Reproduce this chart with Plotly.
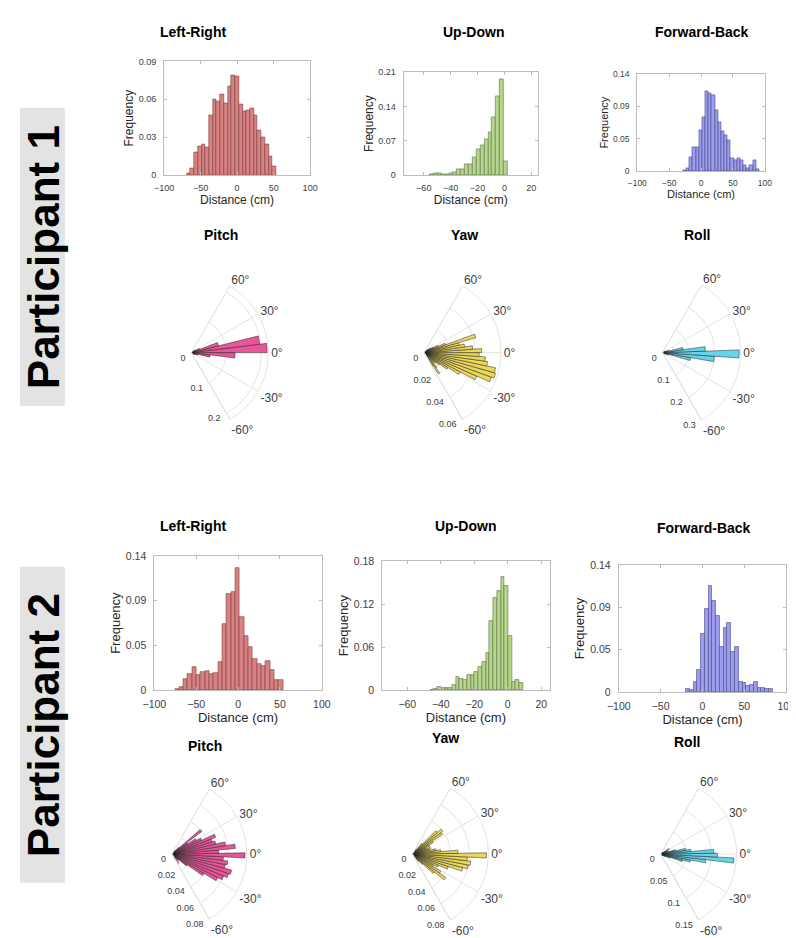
import plotly.graph_objects as go

W, H = 796, 938
FONT = "Liberation Sans, Arial, sans-serif"

# ---------------- Histogram data ----------------
# Participant 1
p1_lr_start, p1_lr_width = -69.0, 5.1
p1_lr_freq = [0.0013, 0.005, 0.0176, 0.023, 0.024, 0.022, 0.047, 0.060, 0.058, 0.064,
              0.057, 0.0705, 0.079, 0.078, 0.056, 0.0505, 0.051, 0.053, 0.047, 0.035,
              0.030, 0.0245, 0.015, 0.0066]

p1_ud_start, p1_ud_width = -55.6, 2.9
p1_ud_freq = [0.002, 0.003, 0.003, 0.002, 0.002, 0.003, 0.005, 0.011, 0.012, 0.021,
              0.021, 0.036, 0.052, 0.060, 0.072, 0.088, 0.117, 0.160, 0.196, 0.027]

p1_fb_start, p1_fb_width = -28.0, 4.96
p1_fb_freq = [0.001, 0.004, 0.020, 0.035, 0.034, 0.059, 0.078, 0.115, 0.113, 0.109,
              0.088, 0.070, 0.058, 0.052, 0.044, 0.018, 0.016, 0.018, 0.016, 0.008,
              0.004, 0.008, 0.016, 0.003]

# Participant 2
p2_lr_start, p2_lr_width = -75.5, 5.16
p2_lr_freq = [0.001, 0.003, 0.012, 0.017, 0.024, 0.016, 0.019, 0.020, 0.017, 0.018,
              0.029, 0.069, 0.100, 0.102, 0.128, 0.076, 0.057, 0.045, 0.033, 0.027,
              0.025, 0.030, 0.021, 0.011, 0.011]

p2_ud_start, p2_ud_width = -46.6, 2.23
p2_ud_freq = [0.001, 0.002, 0.004, 0.003, 0.003, 0.003, 0.007, 0.018, 0.016, 0.015,
              0.022, 0.022, 0.025, 0.032, 0.040, 0.052, 0.096, 0.128, 0.138, 0.158,
              0.145, 0.075, 0.011, 0.014, 0.010]

p2_fb_start, p2_fb_width = -20.0, 4.5
p2_fb_freq = [0.004, 0.003, 0.011, 0.025, 0.064, 0.092, 0.117, 0.100, 0.084, 0.050,
              0.071, 0.076, 0.044, 0.050, 0.011, 0.010, 0.007, 0.008, 0.011, 0.005,
              0.005, 0.004, 0.004]

# ---------------- Polar histogram data (theta in degrees) ----------------
p1_pitch_theta = [-45.5, -38.5, -31.5, -24.5, -17.5, -10.5, -3.5, 3.5, 10.5, 17.5, 24.5, 31.5, 38.5, 45.5]
p1_pitch_r = [0.003, 0.005, 0.008, 0.012, 0.02, 0.054, 0.125, 0.217, 0.197, 0.08, 0.025, 0.012, 0.006, 0.003]

p1_yaw_theta = [-58, -54, -50, -46, -42, -38, -34, -30, -26, -22, -18, -14, -10, -6, -2,
                2, 6, 10, 14, 18, 22, 26, 30, 34, 38]
p1_yaw_r = [0.012, 0.02, 0.015, 0.01, 0.012, 0.015, 0.022, 0.032, 0.045, 0.056, 0.058, 0.057,
            0.05, 0.048, 0.043, 0.045, 0.038, 0.032, 0.028, 0.042, 0.018, 0.012, 0.008, 0.006, 0.004]

p1_roll_theta = [-37, -31, -25, -19, -13, -7, -1, 5, 11, 17, 23, 29, 35]
p1_roll_r = [0.005, 0.008, 0.012, 0.025, 0.11, 0.2, 0.295, 0.165, 0.08, 0.025, 0.012, 0.006, 0.004]

p2_pitch_theta = [-57, -53, -49, -45, -41, -37, -33, -29, -25, -21, -17, -13, -9, -5, -1,
                  3, 7, 11, 15, 19, 23, 27, 31, 35, 39, 43, 47, 51]
p2_pitch_r = [0.006, 0.012, 0.006, 0.008, 0.01, 0.02, 0.04, 0.055, 0.06, 0.064, 0.066, 0.058,
              0.06, 0.055, 0.078, 0.05, 0.068, 0.058, 0.048, 0.045, 0.05, 0.035, 0.03, 0.02,
              0.04, 0.01, 0.005, 0.003]

p2_yaw_theta = [-53, -49, -45, -41, -37, -33, -29, -25, -21, -17, -13, -9, -5, -1,
                3, 7, 11, 15, 19, 23, 27, 31, 35, 39, 43, 47, 51]
p2_yaw_r = [0.005, 0.01, 0.015, 0.03, 0.043, 0.035, 0.025, 0.03, 0.04, 0.055, 0.06, 0.062,
            0.058, 0.078, 0.048, 0.03, 0.025, 0.018, 0.02, 0.015, 0.02, 0.025, 0.038, 0.04,
            0.035, 0.015, 0.006]

p2_roll_theta = [-33, -29, -25, -21, -17, -13, -9, -5, -1, 3, 7, 11, 15, 19, 23, 27, 31, 35]
p2_roll_r = [0.004, 0.006, 0.01, 0.02, 0.045, 0.06, 0.09, 0.145, 0.112, 0.105, 0.06, 0.05,
             0.03, 0.015, 0.012, 0.015, 0.02, 0.006]

# ---------------- Tick labels ----------------
dist_ticks_wide = [-100, -50, 0, 50, 100]
dist_ticks_ud = [-60, -40, -20, 0, 20]
ang_ticks = [-60, -30, 0, 30, 60]
ang_text = ["-60°", "-30°", "0°", "30°", "60°"]

# colours
C_LR, E_LR = "#d98282", "#7a3b3b"
C_UD, E_UD = "#b6d68c", "#5c6e45"
C_FB, E_FB = "#9c9cf0", "#4a4a80"
C_PI = "#e9559b"
C_YA = "#ebd75a"
C_RO = "#66d5ea"
GRID = "#e4e4e4"
TICKC = "#404040"


def fx(px):
    return px / W


def fy(py):
    return 1 - py / H


fig = go.Figure()

hists = [
    (p1_lr_start, p1_lr_width, p1_lr_freq, C_LR, E_LR, 1, (148, 298, 48, 163), [-100, 100],
     dist_ticks_wide, 0.09, [0, 0.03, 0.06, 0.09], ["0", "0.03", "0.06", "0.09"], 9, 12),
    (p1_ud_start, p1_ud_width, p1_ud_freq, C_UD, E_UD, 2, (394, 532, 59, 163), [-75, 25],
     dist_ticks_ud, 0.21, [0, 0.07, 0.14, 0.21], ["0", "0.07", "0.14", "0.21"], 9, 12),
    (p1_fb_start, p1_fb_width, p1_fb_freq, C_FB, E_FB, 3, (634, 765, 61, 159), [-100, 100],
     dist_ticks_wide, 0.14, [0, 0.14 / 3, 0.28 / 3, 0.14], ["0", "0.05", "0.09", "0.14"], 8.5, 11),
    (p2_lr_start, p2_lr_width, p2_lr_freq, C_LR, E_LR, 4, (138, 310, 549, 685), [-100, 100],
     dist_ticks_wide, 0.14, [0, 0.14 / 3, 0.28 / 3, 0.14], ["0", "0.05", "0.09", "0.14"], 10.5, 13),
    (p2_ud_start, p2_ud_width, p2_ud_freq, C_UD, E_UD, 5, (372, 544, 554, 685), [-75, 25],
     dist_ticks_ud, 0.18, [0, 0.06, 0.12, 0.18], ["0", "0.06", "0.12", "0.18"], 10.5, 13),
    (p2_fb_start, p2_fb_width, p2_fb_freq, C_FB, E_FB, 6, (615, 787, 558, 687), [-100, 100],
     dist_ticks_wide, 0.14, [0, 0.14 / 3, 0.28 / 3, 0.14], ["0", "0.05", "0.09", "0.14"], 10.5, 13),
]

layout_axes = {}
annotations = []
for (start, width, freq, col, edge, idx, box, xr, xt, ymax, yt, ytx, tfs, lfs) in hists:
    centers = [start + width * (i + 0.5) for i in range(len(freq))]
    xa = "x" if idx == 1 else f"x{idx}"
    ya = "y" if idx == 1 else f"y{idx}"
    fig.add_trace(go.Bar(x=centers, y=freq, width=[width] * len(freq),
                         marker=dict(color=col, line=dict(color=edge, width=0.6)),
                         xaxis=xa, yaxis=ya, showlegend=False, hoverinfo="skip"))
    x0, x1, y0, y1 = box
    common = dict(showline=True, linecolor="#bdbdbd", linewidth=1, mirror="ticks",
                  ticks="inside", ticklen=3, tickcolor="#bdbdbd", showgrid=False, zeroline=False,
                  tickfont=dict(family=FONT, size=tfs, color=TICKC))
    layout_axes["xaxis" if idx == 1 else f"xaxis{idx}"] = dict(
        domain=[fx(x0), fx(x1)], anchor=ya, range=xr, tickmode="array", tickvals=xt,
        ticklabelstandoff=4,
        title=dict(text="Distance (cm)", font=dict(family=FONT, size=lfs, color="#262626"), standoff=2),
        **common)
    layout_axes["yaxis" if idx == 1 else f"yaxis{idx}"] = dict(
        domain=[fy(y1), fy(y0)], anchor=xa, range=[0, ymax], tickmode="array", tickvals=yt,
        ticktext=ytx, ticklabelstandoff=5,
        title=dict(text="Frequency", font=dict(family=FONT, size=lfs, color="#262626"), standoff=2),
        **common)

polars = [
    (p1_pitch_theta, p1_pitch_r, 7, C_PI, 1, (176, 343, 79), 0.22, [0, 0.1, 0.2], ["0", "0.1", "0.2"]),
    (p1_yaw_theta, p1_yaw_r, 4, C_YA, 2, (415, 343, 79), 0.06, [0, 0.02, 0.04, 0.06], ["0", "0.02", "0.04", "0.06"]),
    (p1_roll_theta, p1_roll_r, 6, C_RO, 3, (660, 343, 80), 0.3, [0, 0.1, 0.2, 0.3], ["0", "0.1", "0.2", "0.3"]),
    (p2_pitch_theta, p2_pitch_r, 4, C_PI, 4, (156, 851, 77), 0.08, [0, 0.02, 0.04, 0.06, 0.08],
     ["0", "0.02", "0.04", "0.06", "0.08"]),
    (p2_yaw_theta, p2_yaw_r, 4, C_YA, 5, (403, 851, 78), 0.08, [0, 0.02, 0.04, 0.06, 0.08],
     ["0", "0.02", "0.04", "0.06", "0.08"]),
    (p2_roll_theta, p2_roll_r, 4, C_RO, 6, (658, 851, 78), 0.15, [0, 0.05, 0.1, 0.15],
     ["0", "0.05", "0.1", "0.15"]),
]

for (th, r, w, col, idx, (cx, cy, R), rmax, rt, rtx) in polars:
    pname = "polar" if idx == 1 else f"polar{idx}"
    fig.add_trace(go.Barpolar(theta=th, r=r, width=[w] * len(r), subplot=pname,
                              marker=dict(color=col, line=dict(color="#222222", width=0.5)),
                              showlegend=False, hoverinfo="skip"))
    layout_axes[pname] = dict(
        domain=dict(x=[fx(cx), fx(cx + R)], y=[fy(cy + 0.866 * R), fy(cy - 0.866 * R)]),
        sector=[-60, 60], bgcolor="white", hole=0,
        angularaxis=dict(rotation=0, direction="counterclockwise", tickmode="array",
                         tickvals=ang_ticks, ticktext=ang_text, showgrid=True, gridcolor=GRID,
                         showline=True, linecolor=GRID, ticks="",
                         tickfont=dict(family=FONT, size=12, color=TICKC)),
        radialaxis=dict(range=[0, rmax], tickmode="array", tickvals=rt, ticktext=rtx,
                        angle=-60, side="clockwise", showline=True, linecolor=GRID,
                        gridcolor=GRID, showgrid=True, ticks="", tickangle=-60,
                        tickfont=dict(family=FONT, size=9, color=TICKC)),
    )

titles = [
    ("Left-Right", 178, 18), ("Up-Down", 466, 18), ("Forward-Back", 700, 18),
    ("Pitch", 206, 224), ("Yaw", 457, 224), ("Roll", 695, 224),
    ("Left-Right", 178, 519), ("Up-Down", 458, 519), ("Forward-Back", 703, 521),
    ("Pitch", 190, 741), ("Yaw", 437, 733), ("Roll", 685, 737),
]
for t, x, y in titles:
    annotations.append(dict(text=f"<b>{t}</b>", x=fx(x), y=fy(y), xref="paper", yref="paper",
                            showarrow=False, xanchor="center", yanchor="middle",
                            font=dict(family=FONT, size=14, color="black")))

shapes = []
for label, y0, y1 in [("Participant 1", 95, 397), ("Participant 2", 560, 880)]:
    shapes.append(dict(type="rect", xref="paper", yref="paper", x0=0, x1=fx(46),
                       y0=fy(y1), y1=fy(y0), fillcolor="#e3e3e3", line=dict(width=0), layer="below"))
    annotations.append(dict(text=f"<b>{label}</b>", x=fx(24), y=fy((y0 + y1) / 2), xref="paper",
                            yref="paper", showarrow=False, textangle=-90, xanchor="center",
                            yanchor="middle", font=dict(family=FONT, size=44, color="black")))

fig.update_layout(width=W, height=H, margin=dict(l=0, r=0, t=0, b=0),
                  paper_bgcolor="white", plot_bgcolor="white", bargap=0,
                  annotations=annotations, shapes=shapes, **layout_axes)

fig.write_html("out.html")
